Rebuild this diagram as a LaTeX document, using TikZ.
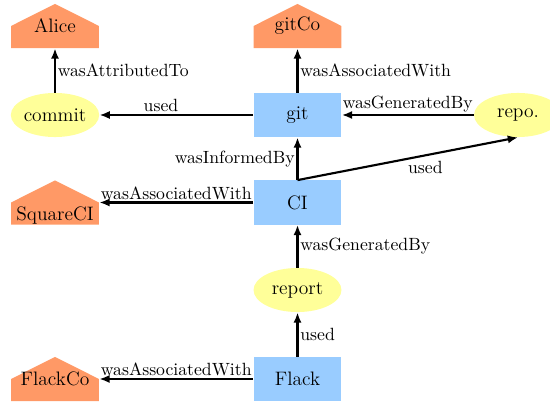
\documentclass[tikz,border=0pt]{standalone}
\usetikzlibrary{arrows.meta,shapes.geometric}
\definecolor{agentcol}{HTML}{FF9966}
\definecolor{entitycol}{HTML}{FFFF99}
\definecolor{activitycol}{HTML}{99CCFF}
\begin{document}
\begin{tikzpicture}[x=0.565pt,y=-0.565pt,
  nodefont/.style={font=\fontsize{11}{13}\selectfont},
  agent/.style={rectangle, nodefont, minimum width=49.7pt, minimum height=24.9pt, inner sep=0pt,
    path picture={\fill[agentcol] (path picture bounding box.south west) -- (path picture bounding box.south east) -- (path picture bounding box.east) -- (path picture bounding box.north) -- (path picture bounding box.west) -- cycle;}},
  entity/.style={ellipse, nodefont, fill=entitycol, minimum width=49.7pt, minimum height=24.9pt, inner sep=0pt},
  activity/.style={rectangle, nodefont, fill=activitycol, minimum width=49.7pt, minimum height=24.9pt, inner sep=0pt},
  rel/.style={-{Latex[length=5.8pt,width=4.6pt]}, line width=1.2pt},
  lbl/.style={inner sep=1pt}
]
\useasboundingbox (0,0) rectangle (550,402);
\node[agent] (alice) at (55,26) {Alice};
\node[agent] (gitco) at (297.5,26) {gitCo};
\node[entity] (commit) at (55,115) {commit};
\node[activity] (git) at (297.5,115) {git};
\node[entity] (repo) at (518,115) {repo.};
\node[agent] (sq) at (55,202.5) {\raisebox{-7.6pt}[7.5pt][2.1pt]{SquareCI}};
\node[activity] (ci) at (297.5,202.5) {CI};
\node[entity] (report) at (297.5,290) {report};
\node[agent] (flackco) at (55,379) {FlackCo};
\node[activity] (flack) at (297.5,379) {Flack};

\draw[rel] (commit) -- node[lbl,right]{wasAttributedTo} (alice);
\draw[rel] (git) -- node[lbl,above,pos=0.6]{used} (commit);
\draw[rel] (git) -- node[lbl,right]{wasAssociatedWith} (gitco);
\draw[rel] (repo) -- node[lbl,above]{wasGeneratedBy} (git);
\draw[rel] (ci) -- node[lbl,left]{wasInformedBy} (git);
\draw[rel] (ci.north) -- node[lbl,below,pos=0.58,yshift=-2pt]{used} (repo.south);
\draw[rel] (ci) -- node[lbl,above]{wasAssociatedWith} (sq);
\draw[rel] (report) -- node[lbl,right]{wasGeneratedBy} (ci);
\draw[rel] (flack) -- node[lbl,right]{used} (report);
\draw[rel] (flack) -- node[lbl,above]{wasAssociatedWith} (flackco);
\end{tikzpicture}
\end{document}
